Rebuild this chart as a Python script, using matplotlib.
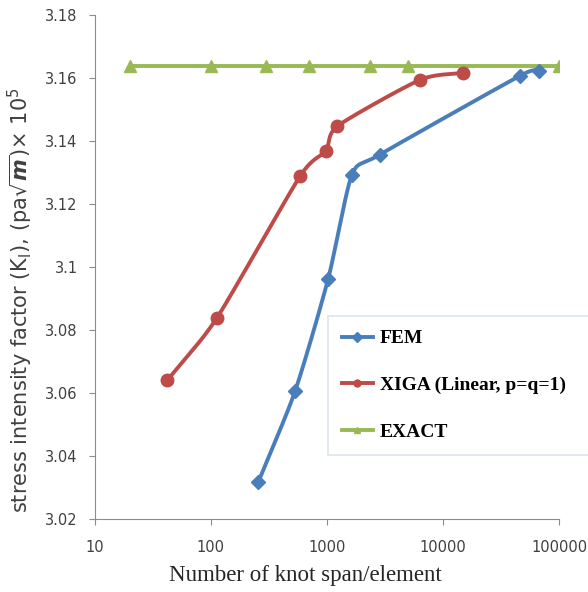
import numpy as np
import matplotlib
matplotlib.use("Agg")
import matplotlib.pyplot as plt
from matplotlib.lines import Line2D

# data
fem_n = [256, 533, 1026, 1641, 2840, 45700, 66700]
fem_k = [3.0317, 3.0607, 3.0963, 3.1292, 3.1356, 3.1606, 3.1622]

xiga_n = [42.3, 112.7, 589, 980, 1233, 6370, 14860]
xiga_k = [3.0641, 3.0838, 3.1289, 3.1368, 3.1447, 3.1594, 3.1616]

exact_n = [20, 100, 300, 700, 2330, 5000, 100000]
exact_k = [3.1638] * 7

c_fem = '#4A7EBB'
c_xiga = '#BE4B48'
c_exact = '#98B954'


def smooth(xs, ys, n=30, tens=0.7):
    # cardinal spline through points in log-x space (like excel smoothed lines)
    lx = np.log10(xs)
    ys = np.asarray(ys)
    px = np.concatenate([[2*lx[0]-lx[1]], lx, [2*lx[-1]-lx[-2]]])
    py = np.concatenate([[2*ys[0]-ys[1]], ys, [2*ys[-1]-ys[-2]]])
    outx, outy = [], []
    t = np.linspace(0, 1, n)
    h00 = 2*t**3 - 3*t**2 + 1
    h10 = t**3 - 2*t**2 + t
    h01 = -2*t**3 + 3*t**2
    h11 = t**3 - t**2
    for i in range(1, len(px)-2):
        for arr, out in ((px, outx), (py, outy)):
            p0, p1, p2, p3 = arr[i-1], arr[i], arr[i+1], arr[i+2]
            m1 = tens*0.5*(p2-p0)
            m2 = tens*0.5*(p3-p1)
            out.extend(h00*p1 + h10*m1 + h01*p2 + h11*m2)
    return 10**np.array(outx), np.array(outy)


fig = plt.figure(figsize=(5.88, 5.92), dpi=100)
ax = fig.add_axes([0.161, 0.123, 0.790, 0.852])

sx, sy = smooth(fem_n, fem_k)
ax.plot(sx, sy, color=c_fem, lw=2.8, zorder=3)
ax.plot(fem_n, fem_k, 'D', color=c_fem, ms=7, zorder=4)

sx, sy = smooth(xiga_n, xiga_k)
ax.plot(sx, sy, color=c_xiga, lw=2.8, zorder=3)
ax.plot(xiga_n, xiga_k, 'o', color=c_xiga, ms=9, zorder=4)

ax.plot(exact_n, exact_k, '-^', color=c_exact, lw=2.8, ms=8, zorder=2)

ax.set_xscale('log')
ax.set_xlim(10, 100000)
ax.set_ylim(3.02, 3.18)
ax.set_xticks([10, 100, 1000, 10000, 100000])
ax.set_xticklabels(['10', '100', '1000', '10000', '100000'])
ax.minorticks_off()
yt = [3.02, 3.04, 3.06, 3.08, 3.1, 3.12, 3.14, 3.16, 3.18]
ax.set_yticks(yt)
ax.set_yticklabels(['3.02', '3.04', '3.06', '3.08', '3.1', '3.12', '3.14', '3.16', '3.18'])

for s in ['top', 'right']:
    ax.spines[s].set_visible(False)
for s in ['left', 'bottom']:
    ax.spines[s].set_color('#8c8c8c')
ax.tick_params(colors='#8c8c8c', labelcolor='#404040', labelsize=10.5, length=4.3)
ax.tick_params(axis='x', pad=11)
ax.tick_params(axis='y', pad=8)
for lab in ax.get_xticklabels() + ax.get_yticklabels():
    lab.set_family('DejaVu Sans')

ax.set_ylabel(r'stress intensity factor (K$_\mathrm{I}$), (pa$\sqrt{\boldsymbol{m}}$)$\times$ 10$^5$',
              fontsize=15, family='DejaVu Sans', color='#404040')
ax.yaxis.set_label_coords(-0.1285, 0.4345)
ax.set_xlabel('Number of knot span/element', fontsize=16.5, family='Liberation Serif',
              color='#262626')
ax.xaxis.set_label_coords(0.454, -0.09)

handles = [Line2D([], [], color=c_fem, marker='D', lw=2.8, ms=5),
           Line2D([], [], color=c_xiga, marker='o', lw=2.8, ms=5),
           Line2D([], [], color=c_exact, marker='^', lw=2.8, ms=5)]
leg = fig.legend(handles, ['FEM', 'XIGA (Linear, p=q=1)', 'EXACT'],
                 loc='upper left', bbox_to_anchor=(0.558, 0.266, 0.46, 0.2),
                 mode='expand', borderaxespad=0, framealpha=1,
                 prop={'family': 'Liberation Serif', 'weight': 'bold', 'size': 14},
                 frameon=True, fancybox=False, handlelength=1.6, handletextpad=0.35,
                 labelspacing=1.5, borderpad=0.7)
leg.get_frame().set_edgecolor('#dbe3f1')
leg.get_frame().set_linewidth(1.2)

fig.savefig('out.png', dpi=100)
